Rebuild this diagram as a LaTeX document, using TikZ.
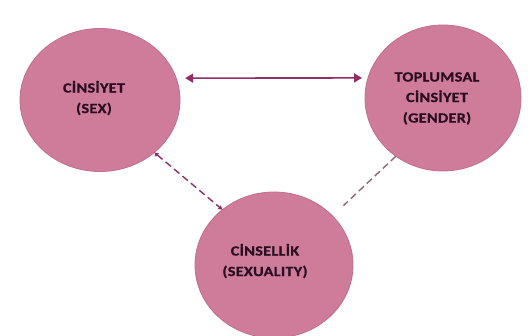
\documentclass[tikz,border=0pt]{standalone}
\usepackage{fontspec}
\setmainfont{Carlito}
\usetikzlibrary{arrows.meta,shapes.geometric}
\definecolor{circfill}{RGB}{207,124,154}
\definecolor{circedge}{RGB}{194,110,142}
\definecolor{arrowc}{RGB}{145,45,100}
\definecolor{dashc}{RGB}{150,100,122}
\definecolor{textc}{RGB}{42,14,32}
\begin{document}
\begin{tikzpicture}[x=1pt,y=-1pt,
  bubble/.style={ellipse, fill=circfill, draw=circedge, line width=0.8pt, inner sep=0pt, outer sep=0pt},
  label text/.style={font=\bfseries\fontsize{14}{20.5}\selectfont\addfontfeatures{FakeStretch=1.16,LetterSpace=2,FakeBold=0.8}, text=textc, align=center, inner sep=0pt},
  solidlink/.style={draw=arrowc, line width=1.6pt, {Triangle[length=8pt,width=9pt]}-{Triangle[length=8pt,width=9pt]}},
  dashlink/.style={draw=arrowc, line width=1.4pt, dash pattern=on 7pt off 4pt, {Triangle[length=4pt,width=4.5pt]}-{Triangle[length=4pt,width=4.5pt]}},
  greylink/.style={draw=dashc, line width=1.4pt, dash pattern=on 7pt off 4pt}]
\fill[white] (0,0) rectangle (531,336);
\useasboundingbox (0,0) rectangle (531,336);

\node[bubble, minimum width=160pt, minimum height=143pt] (sex) at (100,100) {};
\node[bubble, minimum width=156pt, minimum height=146pt] (gender) at (443,98) {};
\node[bubble, minimum width=158pt, minimum height=146pt] (sexuality) at (274,265) {};

\node[label text] (tsex) at (94,98) {CİNSİYET\\(SEX)};
\node[label text] (tgender) at (437,98.5) {TOPLUMSAL\\CİNSİYET\\(GENDER)};
\node[label text] (tsexuality) at (265,261) {CİNSELLİK\\(SEXUALITY)};

\draw[solidlink, shorten <=9pt, shorten >=6pt] (sex.16) -- (gender.165);
\draw[dashlink] (sex.-44) -- (sexuality.133);
\draw[greylink, shorten >=15pt] (gender.231) -- (sexuality.40.6);
\end{tikzpicture}
\end{document}
